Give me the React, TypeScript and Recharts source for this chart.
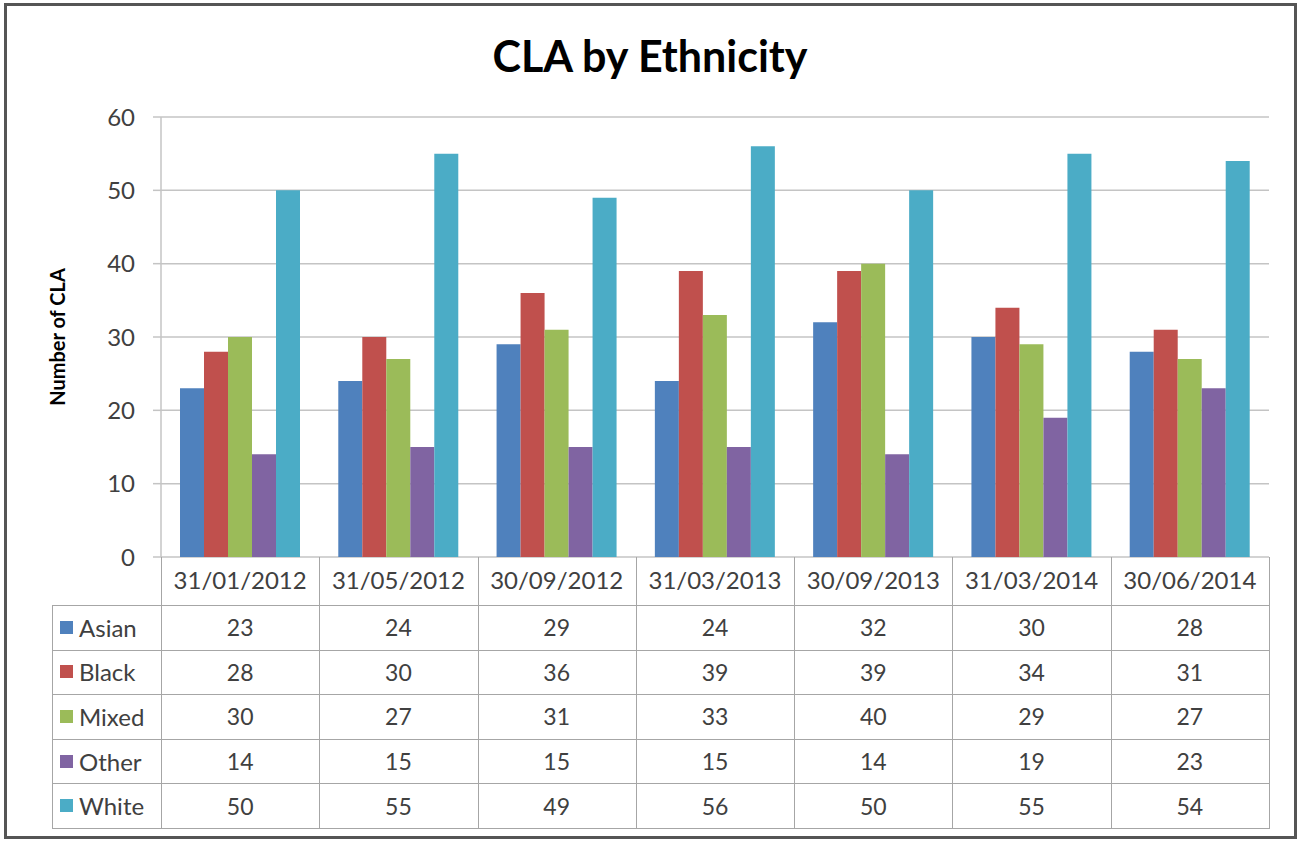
import React from "react";
import { BarChart, Bar, XAxis, YAxis, CartesianGrid } from "recharts";

const categories = ["31/01/2012", "31/05/2012", "30/09/2012", "31/03/2013", "30/09/2013", "31/03/2014", "30/06/2014"];
const asian = [23, 24, 29, 24, 32, 30, 28];
const black = [28, 30, 36, 39, 39, 34, 31];
const mixed = [30, 27, 31, 33, 40, 29, 27];
const other = [14, 15, 15, 15, 14, 19, 23];
const white = [50, 55, 49, 56, 50, 55, 54];
const yTicks = [0, 10, 20, 30, 40, 50, 60];

const series = [
  { key: "Asian", values: asian, color: "#4F81BD" },
  { key: "Black", values: black, color: "#C0504D" },
  { key: "Mixed", values: mixed, color: "#9BBB59" },
  { key: "Other", values: other, color: "#8064A2" },
  { key: "White", values: white, color: "#4BACC6" },
];

const data = categories.map((name, i) => {
  const row: Record<string, string | number> = { name };
  series.forEach((s) => (row[s.key] = s.values[i]));
  return row;
});

const FONT = "Lato, 'Open Sans', sans-serif";
const PLOT_LEFT = 161;
const PLOT_RIGHT = 1269;
const PLOT_BOTTOM = 557;
const BAND = (PLOT_RIGHT - PLOT_LEFT) / categories.length;
const TABLE_LEFT = 52;
const HEADER_BOTTOM = 605;
const ROW_H = (828 - HEADER_BOTTOM) / series.length;
const LINE = "#a6a6a6";
const TEXT = "#404040";

const DataTable = () => {
  const cells: React.ReactNode[] = [];
  // header vertical separators
  for (let i = 0; i <= categories.length; i++) {
    cells.push(
      <div
        key={`hv${i}`}
        style={{ position: "absolute", left: PLOT_LEFT + i * BAND, top: PLOT_BOTTOM, width: 1, height: HEADER_BOTTOM - PLOT_BOTTOM, background: LINE }}
      />
    );
  }
  // horizontal lines
  for (let r = 0; r <= series.length; r++) {
    cells.push(
      <div
        key={`h${r}`}
        style={{ position: "absolute", left: TABLE_LEFT, top: HEADER_BOTTOM + r * ROW_H, width: PLOT_RIGHT - TABLE_LEFT + 1, height: 1, background: LINE }}
      />
    );
  }
  // body vertical lines
  const xs = [TABLE_LEFT, ...categories.map((_, i) => PLOT_LEFT + i * BAND), PLOT_RIGHT];
  xs.forEach((x, i) =>
    cells.push(
      <div
        key={`v${i}`}
        style={{ position: "absolute", left: x, top: HEADER_BOTTOM, width: 1, height: ROW_H * series.length, background: LINE }}
      />
    )
  );
  series.forEach((s, r) => {
    const top = HEADER_BOTTOM + r * ROW_H;
    cells.push(
      <div
        key={`l${r}`}
        style={{ position: "absolute", left: TABLE_LEFT + 8, top, height: ROW_H, display: "flex", alignItems: "center", fontSize: 24, color: TEXT }}
      >
        <span style={{ display: "inline-block", width: 13, height: 13, background: s.color, marginRight: 6 }} />
        {s.key}
      </div>
    );
    s.values.forEach((v, i) =>
      cells.push(
        <div
          key={`c${r}-${i}`}
          style={{
            position: "absolute",
            left: PLOT_LEFT + i * BAND,
            top,
            width: BAND,
            height: ROW_H,
            display: "flex",
            alignItems: "center",
            justifyContent: "center",
            fontSize: 23,
            color: TEXT,
          }}
        >
          {v}
        </div>
      )
    );
  });
  return <>{cells}</>;
};

export default function App() {
  return (
    <div style={{ position: "absolute", left: 0, top: 0, width: 1300, height: 841, background: "#fff", fontFamily: FONT }}>
      <div
        style={{ position: "absolute", left: 4, top: 3, width: 1293, height: 836, border: "3px solid #555", boxSizing: "border-box" }}
      />
      <div style={{ position: "absolute", left: 0, top: 30, width: 1300, textAlign: "center", fontSize: 43, fontWeight: 700, color: "#000" }}>
        CLA by Ethnicity
      </div>
      <div
        style={{
          position: "absolute",
          left: 57,
          top: 337,
          transform: "translate(-50%, -50%) rotate(-90deg)",
          whiteSpace: "nowrap",
          fontSize: 20,
          fontWeight: 700,
          color: "#000",
        }}
      >
        Number of CLA
      </div>
      <div style={{ position: "absolute", left: 0, top: 0 }}>
        <BarChart
          width={1300}
          height={841}
          data={data}
          margin={{ top: 117, right: 1300 - PLOT_RIGHT, bottom: 841 - PLOT_BOTTOM - 48, left: PLOT_LEFT - 100 }}
          barGap={0}
          barCategoryGap={19}
        >
          <CartesianGrid vertical={false} stroke="#c4c4c4" strokeWidth={1.5} />
          <XAxis
            dataKey="name"
            height={48}
            axisLine={false}
            tickLine={false}
            tickSize={0}
            tickMargin={15}
            interval={0}
            tick={{ fontSize: 24, fill: TEXT, fontFamily: FONT }}
          />
          <YAxis
            width={100}
            domain={[0, 60]}
            ticks={yTicks}
            axisLine={{ stroke: "#c4c4c4", strokeWidth: 1.5 }}
            tickLine={{ stroke: "#c4c4c4", strokeWidth: 1.5 }}
            tickSize={8}
            tickMargin={18}
            tick={{ fontSize: 24, fill: TEXT, fontFamily: FONT }}
          />
          {series.map((s) => (
            <Bar key={s.key} dataKey={s.key} fill={s.color} isAnimationActive={false} />
          ))}
        </BarChart>
      </div>
      <DataTable />
    </div>
  );
}
